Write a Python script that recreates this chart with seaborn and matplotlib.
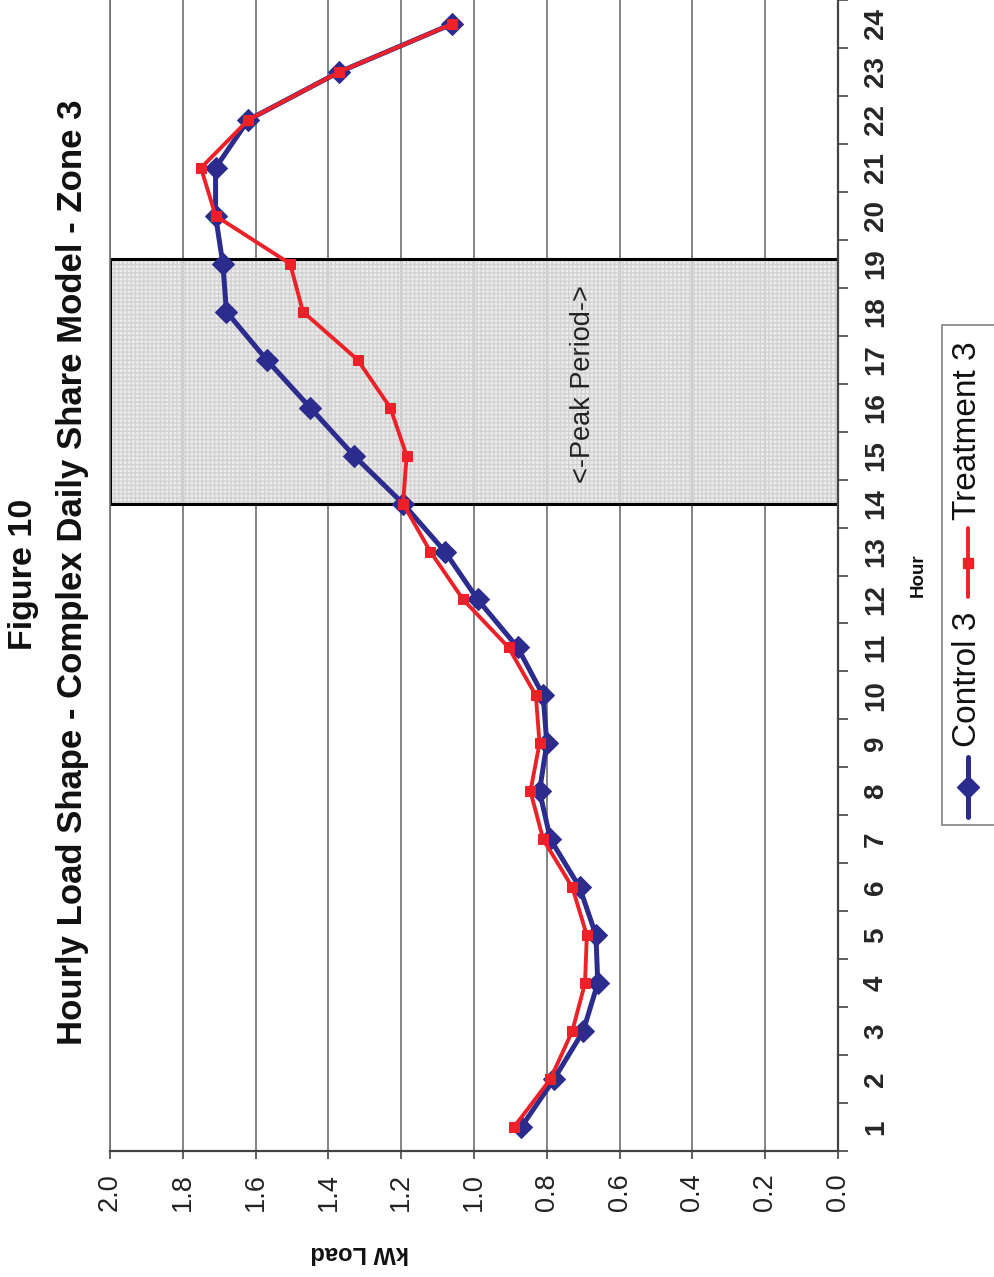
import matplotlib
matplotlib.use("Agg")
import matplotlib.pyplot as plt
from matplotlib.patches import Rectangle
from matplotlib.lines import Line2D
from matplotlib.ticker import FixedLocator
import seaborn as sns
import pandas as pd

# ---- data ----
hours = list(range(1, 25))
control_3 = [0.87, 0.78, 0.70, 0.66, 0.665, 0.71, 0.79, 0.82, 0.80, 0.81, 0.88, 0.99,
             1.08, 1.195, 1.33, 1.45, 1.57, 1.68, 1.69, 1.71, 1.71, 1.62, 1.37, 1.06]
treatment_3 = [0.89, 0.79, 0.73, 0.695, 0.69, 0.73, 0.81, 0.845, 0.82, 0.83, 0.905, 1.03,
               1.12, 1.195, 1.185, 1.23, 1.32, 1.47, 1.505, 1.71, 1.75, 1.62, 1.37, 1.06]
kw_ticks = [0.0, 0.2, 0.4, 0.6, 0.8, 1.0, 1.2, 1.4, 1.6, 1.8, 2.0]
peak_start, peak_end = 14.0, 19.1
title_1 = "Figure 10"
title_2 = "Hourly Load Shape - Complex Daily Share Model - Zone 3"
series_names = ["Control 3", "Treatment 3"]

sns.set_style("white")
plt.rcParams["font.family"] = ["Liberation Sans", "DejaVu Sans"]
plt.rcParams["axes.grid"] = False

BLUE = "#2B2C8E"
RED = "#EE2129"

W, H = 994, 1277
fig = plt.figure(figsize=(W / 100, H / 100), dpi=100)
fig.patch.set_facecolor("white")

def fx(px):
    return px / W

def fy(py):
    return (H - py) / H

ax = fig.add_axes([fx(110), fy(1151), (838 - 110) / W, 1151 / H])

df = pd.DataFrame({"hour": hours, "control": control_3, "treatment": treatment_3})

# peak period box
ax.axhspan(peak_start, peak_end, facecolor=(0.90, 0.90, 0.90, 0.75),
           edgecolor="#d2d2d2", hatch="++++", linewidth=0, zorder=1.2)
ax.axhspan(peak_start, peak_end, facecolor="none", edgecolor="black",
           linewidth=2.2, zorder=1.4)

sns.lineplot(data=df, x="control", y="hour", orient="y", sort=False, estimator=None,
             color=BLUE, linewidth=3.6, marker="D", markersize=11,
             markeredgecolor=BLUE, ax=ax, zorder=3)
sns.lineplot(data=df, x="treatment", y="hour", orient="y", sort=False, estimator=None,
             color=RED, linewidth=2.8, marker="s", markersize=6.5,
             markeredgecolor=RED, ax=ax, zorder=4)

ax.set_xlim(2.0, 0.0)
ax.set_ylim(0.5, 24.5)

ax.set_xticks(kw_ticks)
ax.set_xticklabels([f"{v:.1f}" for v in kw_ticks], rotation=90,
                   fontsize=19.5, color="#222222")
ax.tick_params(axis="x", direction="out", length=6, width=1.2, color="#444444",
               pad=10, bottom=True)

ax.yaxis.tick_right()
ax.set_yticks(hours)
ax.set_yticklabels([str(h) for h in hours], rotation=90, fontsize=20,
                   fontweight="bold", va="center", ha="left")
ax.yaxis.set_minor_locator(FixedLocator([h + 0.5 for h in range(0, 25)]))
ax.tick_params(axis="y", which="major", length=0, pad=18, right=True, left=False)
ax.tick_params(axis="y", which="minor", direction="out", length=7, width=1.2,
               color="#444444", right=True, left=False)

# grid: vertical lines only
ax.set_axisbelow(True)
ax.yaxis.grid(False, which="both")
ax.xaxis.grid(True, which="major", color="#6e6e6e", linewidth=1.2)

ax.spines["top"].set_visible(False)
ax.spines["bottom"].set_color("#444444")
ax.spines["bottom"].set_linewidth(1.6)
ax.spines["right"].set_color("#444444")
ax.spines["right"].set_linewidth(1.6)
ax.spines["left"].set_color("#6e6e6e")
ax.spines["left"].set_linewidth(1.2)

ax.set_xlabel("")
ax.set_ylabel("")

ax.text(0.70, 16.5, "<-Peak Period->", rotation=90, ha="center", va="center",
        fontsize=19.5, color="#222222", zorder=5)

# axis titles
fig.text(fx(360), fy(1253), "kW Load", rotation=180, ha="center", va="center",
         fontsize=17, fontweight="bold", color="#111111")
fig.text(fx(918), fy(575), "Hour", rotation=90, ha="center", va="center",
         fontsize=13.5, fontweight="bold", color="#111111")

# titles
fig.text(fx(24), fy(574), title_1, rotation=90, ha="center", va="center",
         fontsize=24.5, fontweight="bold", color="#111111")
fig.text(fx(73), fy(572), title_2, rotation=90, ha="center", va="center",
         fontsize=25, fontweight="bold", color="#111111")

# legend (rotated)
fig.add_artist(Rectangle((fx(942), fy(825)), fx(60), (825 - 325) / H,
                         transform=fig.transFigure, facecolor="white",
                         edgecolor="#8a8a8a", linewidth=1.3))
fig.add_artist(Line2D([fx(968), fx(968)], [fy(817), fy(757)], transform=fig.transFigure,
                      color=BLUE, linewidth=3.6))
fig.add_artist(Line2D([fx(968)], [fy(787)], transform=fig.transFigure, color=BLUE,
                      marker="D", markersize=11, linestyle="none"))
fig.text(fx(968), fy(747), series_names[0], rotation=90, ha="center", va="bottom",
         fontsize=24, color="#111111")
fig.add_artist(Line2D([fx(968), fx(968)], [fy(597), fy(528)], transform=fig.transFigure,
                      color=RED, linewidth=2.8))
fig.add_artist(Line2D([fx(968)], [fy(563)], transform=fig.transFigure, color=RED,
                      marker="s", markersize=6.5, linestyle="none"))
fig.text(fx(968), fy(520), series_names[1], rotation=90, ha="center", va="bottom",
         fontsize=24, color="#111111")

fig.savefig("out.png", dpi=100, facecolor="white")
